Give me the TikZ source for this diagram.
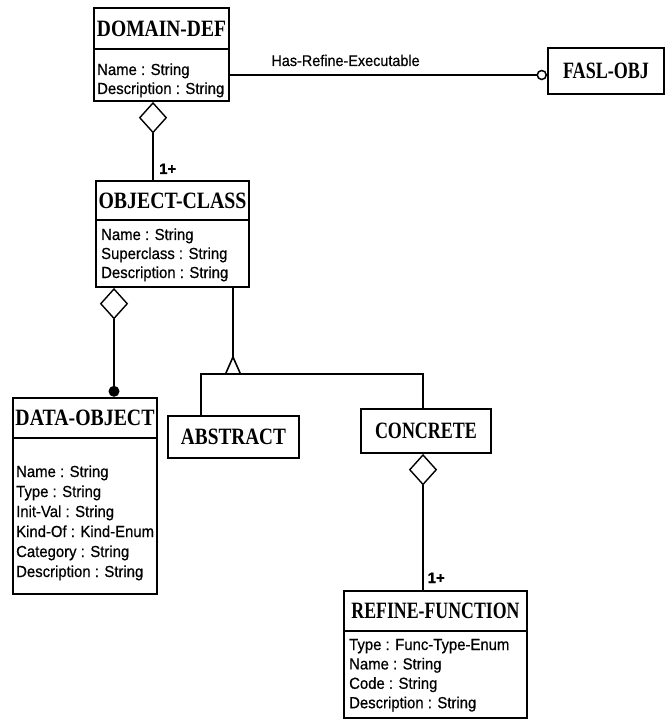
\documentclass[tikz,border=0pt]{standalone}
\usepackage{fontspec}
\setmainfont{Liberation Serif}
\newfontfamily\attrfont[FakeBold=0.6]{Liberation Sans}
\usetikzlibrary{shapes.geometric}
\newcommand\hdrtext[2]{\resizebox{#1pt}{15.5pt}{\bfseries #2}}
\newcommand\attrtext[2]{\scalebox{0.93}[1]{\attrfont\fontsize{16}{#1}\selectfont\begin{tabular}[t]{@{}l@{}}#2\end{tabular}}}
\tikzset{
  hdr/.style={draw, line width=2pt, anchor=north west, inner sep=0pt, text height=15.5pt, text depth=0pt},
  body/.style={draw, line width=2pt, anchor=north west, inner sep=0pt},
  attr/.style={anchor=base west, inner sep=0pt},
  conn/.style={line width=1.6pt},
  agg/.style={diamond, draw, line width=1.4pt, fill=white, minimum width=27pt, minimum height=30pt, inner sep=0pt, anchor=north},
  dot/.style={circle, fill=black, minimum size=11pt, inner sep=0pt, anchor=south},
  ring/.style={circle, draw, line width=1.5pt, minimum size=9pt, inner sep=0pt, fill=white},
  mult/.style={anchor=base west, inner sep=0pt, font=\attrfont\bfseries\fontsize{15}{15}\selectfont},
  lbl/.style={anchor=base, inner sep=0pt, yshift=9pt, font=\attrfont\fontsize{15.5}{15.5}\selectfont}
}
\begin{document}
\begin{tikzpicture}[x=1pt,y=-1pt]
\useasboundingbox (0,0) rectangle (667,719);
% DOMAIN-DEF
\node[hdr, minimum width=135pt, minimum height=41pt] (ddh) at (93,7) {\hdrtext{129}{DOMAIN-DEF}};
\node[body, minimum width=135pt, minimum height=52pt] (ddb) at (93,48) {};
\node[attr] (dda) at (97,75) {\attrtext{19}{Name : String\\Description : String}};
% FASL-OBJ
\node[hdr, minimum width=116pt, minimum height=46pt] (fasl) at (547,47) {\hdrtext{86}{FASL-OBJ}};
% OBJECT-CLASS
\node[hdr, minimum width=153pt, minimum height=39pt] (och) at (95,180) {\hdrtext{148}{OBJECT-CLASS}};
\node[body, minimum width=153pt, minimum height=67pt] (ocb) at (95,219) {};
\node[attr] (oca) at (101,240) {\attrtext{19}{Name : String\\Superclass : String\\Description : String}};
% DATA-OBJECT
\node[hdr, minimum width=144pt, minimum height=40pt] (doh) at (12,397) {\hdrtext{139}{DATA-OBJECT}};
\node[body, minimum width=144pt, minimum height=156pt] (dob) at (12,437) {};
\node[attr] (doa) at (16,477) {\attrtext{20}{Name : String\\Type : String\\Init-Val : String\\Kind-Of : Kind-Enum\\Category : String\\Description : String}};
% ABSTRACT
\node[hdr, minimum width=131pt, minimum height=42pt] (abs) at (167,415) {\hdrtext{105}{ABSTRACT}};
% CONCRETE
\node[hdr, minimum width=130pt, minimum height=44pt] (con) at (360,408) {\hdrtext{102}{CONCRETE}};
% REFINE-FUNCTION
\node[hdr, minimum width=183pt, minimum height=40pt] (rfh) at (343,590) {\hdrtext{168}{REFINE-FUNCTION}};
\node[body, minimum width=183pt, minimum height=87pt] (rfb) at (343,630) {};
\node[attr] (rfa) at (349,650) {\attrtext{19.4}{Type : Func-Type-Enum\\Name : String\\Code : String\\Description : String}};

% DOMAIN-DEF <>-- OBJECT-CLASS
\coordinate (a1) at (153,100);
\node[agg] (agg1) at (ddb.south -| a1) {};
\draw[conn] (agg1.south) -- (agg1.south |- och.north);
\node[mult] (m1) at (159,174) {1+};

% Has-Refine-Executable
\node[ring, anchor=east] (ring) at (fasl.west |- ddb.east) {};
\draw[conn] (ddb.east) -- node[lbl, pos=0.377] {\scalebox{0.93}[1]{Has-Refine-Executable}} (ring.west);

% OBJECT-CLASS <>--* DATA-OBJECT
\coordinate (a2) at (114,286);
\node[agg] (agg2) at (ocb.south -| a2) {};
\node[dot] (dot1) at (doh.north -| a2) {};
\draw[conn] (agg2.south) -- (dot1.north);

% Generalization
\coordinate (tri) at (233,374);
\coordinate (hl) at (201,374);
\coordinate (hr) at (423,374);
\draw[conn] (ocb.south -| tri) -- ([yshift=17pt]tri);
\draw[conn] (abs.north -| hl) -- (hl) -- (hr) -- (con.north -| hr);
\draw[conn, fill=white, line join=miter] ([xshift=-7.5pt]tri) -- ([yshift=17pt]tri) -- ([xshift=7.5pt]tri) -- cycle;

% CONCRETE <>-- REFINE-FUNCTION
\coordinate (a3) at (423,452);
\node[agg] (agg3) at (con.south -| a3) {};
\draw[conn] (agg3.south) -- (agg3.south |- rfh.north);
\node[mult] (m2) at (427.5,583) {1+};
\end{tikzpicture}
\end{document}
